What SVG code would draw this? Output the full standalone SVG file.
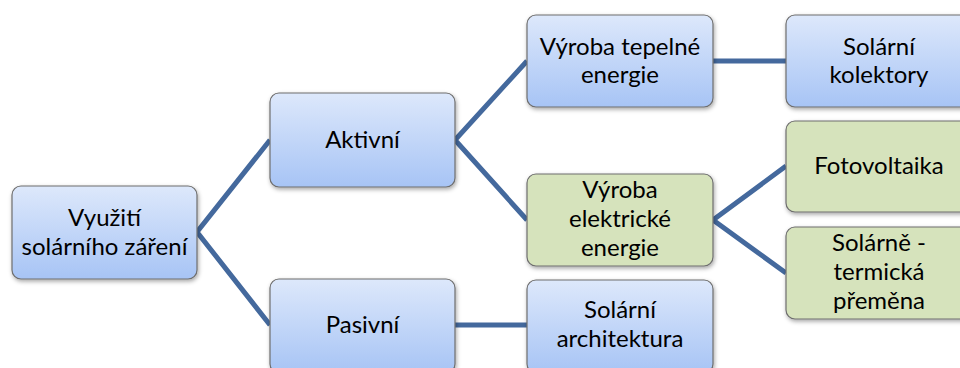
<svg xmlns="http://www.w3.org/2000/svg" width="960" height="368" viewBox="0 0 960 368">
<defs>
<linearGradient id="blue" x1="0" y1="0" x2="0" y2="1">
<stop offset="0" stop-color="#dde8fb"/>
<stop offset="1" stop-color="#a7c4f5"/>
</linearGradient>
<filter id="sh" x="-10%" y="-10%" width="130%" height="140%">
<feDropShadow dx="1" dy="2" stdDeviation="2" flood-color="#000" flood-opacity="0.35"/>
</filter>
</defs>
<style>
.b{fill:url(#blue);stroke:#6e6e6e;stroke-width:1.2;filter:url(#sh)}
.g{fill:#d6e3bc;stroke:#6e6e6e;stroke-width:1.2;filter:url(#sh)}
.t{font-family:Lato,"Open Sans",sans-serif;font-size:24px;fill:#000;text-anchor:middle}
.c{stroke:#44699d;stroke-width:5;fill:none;stroke-linecap:butt}
</style>
<rect width="960" height="368" fill="#fff"/>
<g id="connectors">
<polyline class="c" points="270,140 197,232 270,325"/>
<polyline class="c" points="527,61 455,140 527,220"/>
<line class="c" x1="713" y1="61" x2="786" y2="61"/>
<polyline class="c" points="786,166 713,220 786,273"/>
<line class="c" x1="455" y1="325" x2="527" y2="325"/>
</g>
<g id="n1"><rect class="b" x="12" y="186" width="185" height="93" rx="9"/>
<text class="t" x="104.5" y="226">Využití</text><text class="t" x="104.5" y="255">solárního záření</text></g>
<g id="n2"><rect class="b" x="270" y="93" width="185" height="94" rx="9"/>
<text class="t" x="362.5" y="148">Aktivní</text></g>
<g id="n3"><rect class="b" x="270" y="279" width="185" height="94" rx="9"/>
<text class="t" x="362.5" y="333">Pasivní</text></g>
<g id="n4"><rect class="b" x="527" y="15" width="186" height="92" rx="9"/>
<text class="t" x="620" y="55">Výroba tepelné</text><text class="t" x="620" y="83">energie</text></g>
<g id="n5"><rect class="g" x="527" y="174" width="186" height="92" rx="9"/>
<text class="t" x="620" y="198">Výroba</text><text class="t" x="620" y="227">elektrické</text><text class="t" x="620" y="256">energie</text></g>
<g id="n6"><rect class="b" x="527" y="280" width="186" height="93" rx="9"/>
<text class="t" x="620" y="318">Solární</text><text class="t" x="620" y="347">architektura</text></g>
<g id="n7"><rect class="b" x="786" y="15" width="186" height="92" rx="9"/>
<text class="t" x="879" y="55">Solární</text><text class="t" x="879" y="83">kolektory</text></g>
<g id="n8"><rect class="g" x="786" y="121" width="186" height="91" rx="9"/>
<text class="t" x="879" y="174">Fotovoltaika</text></g>
<g id="n9"><rect class="g" x="786" y="227" width="186" height="92" rx="9"/>
<text class="t" x="879" y="251">Solárně -</text><text class="t" x="879" y="280">termická</text><text class="t" x="879" y="309">přeměna</text></g>
</svg>
